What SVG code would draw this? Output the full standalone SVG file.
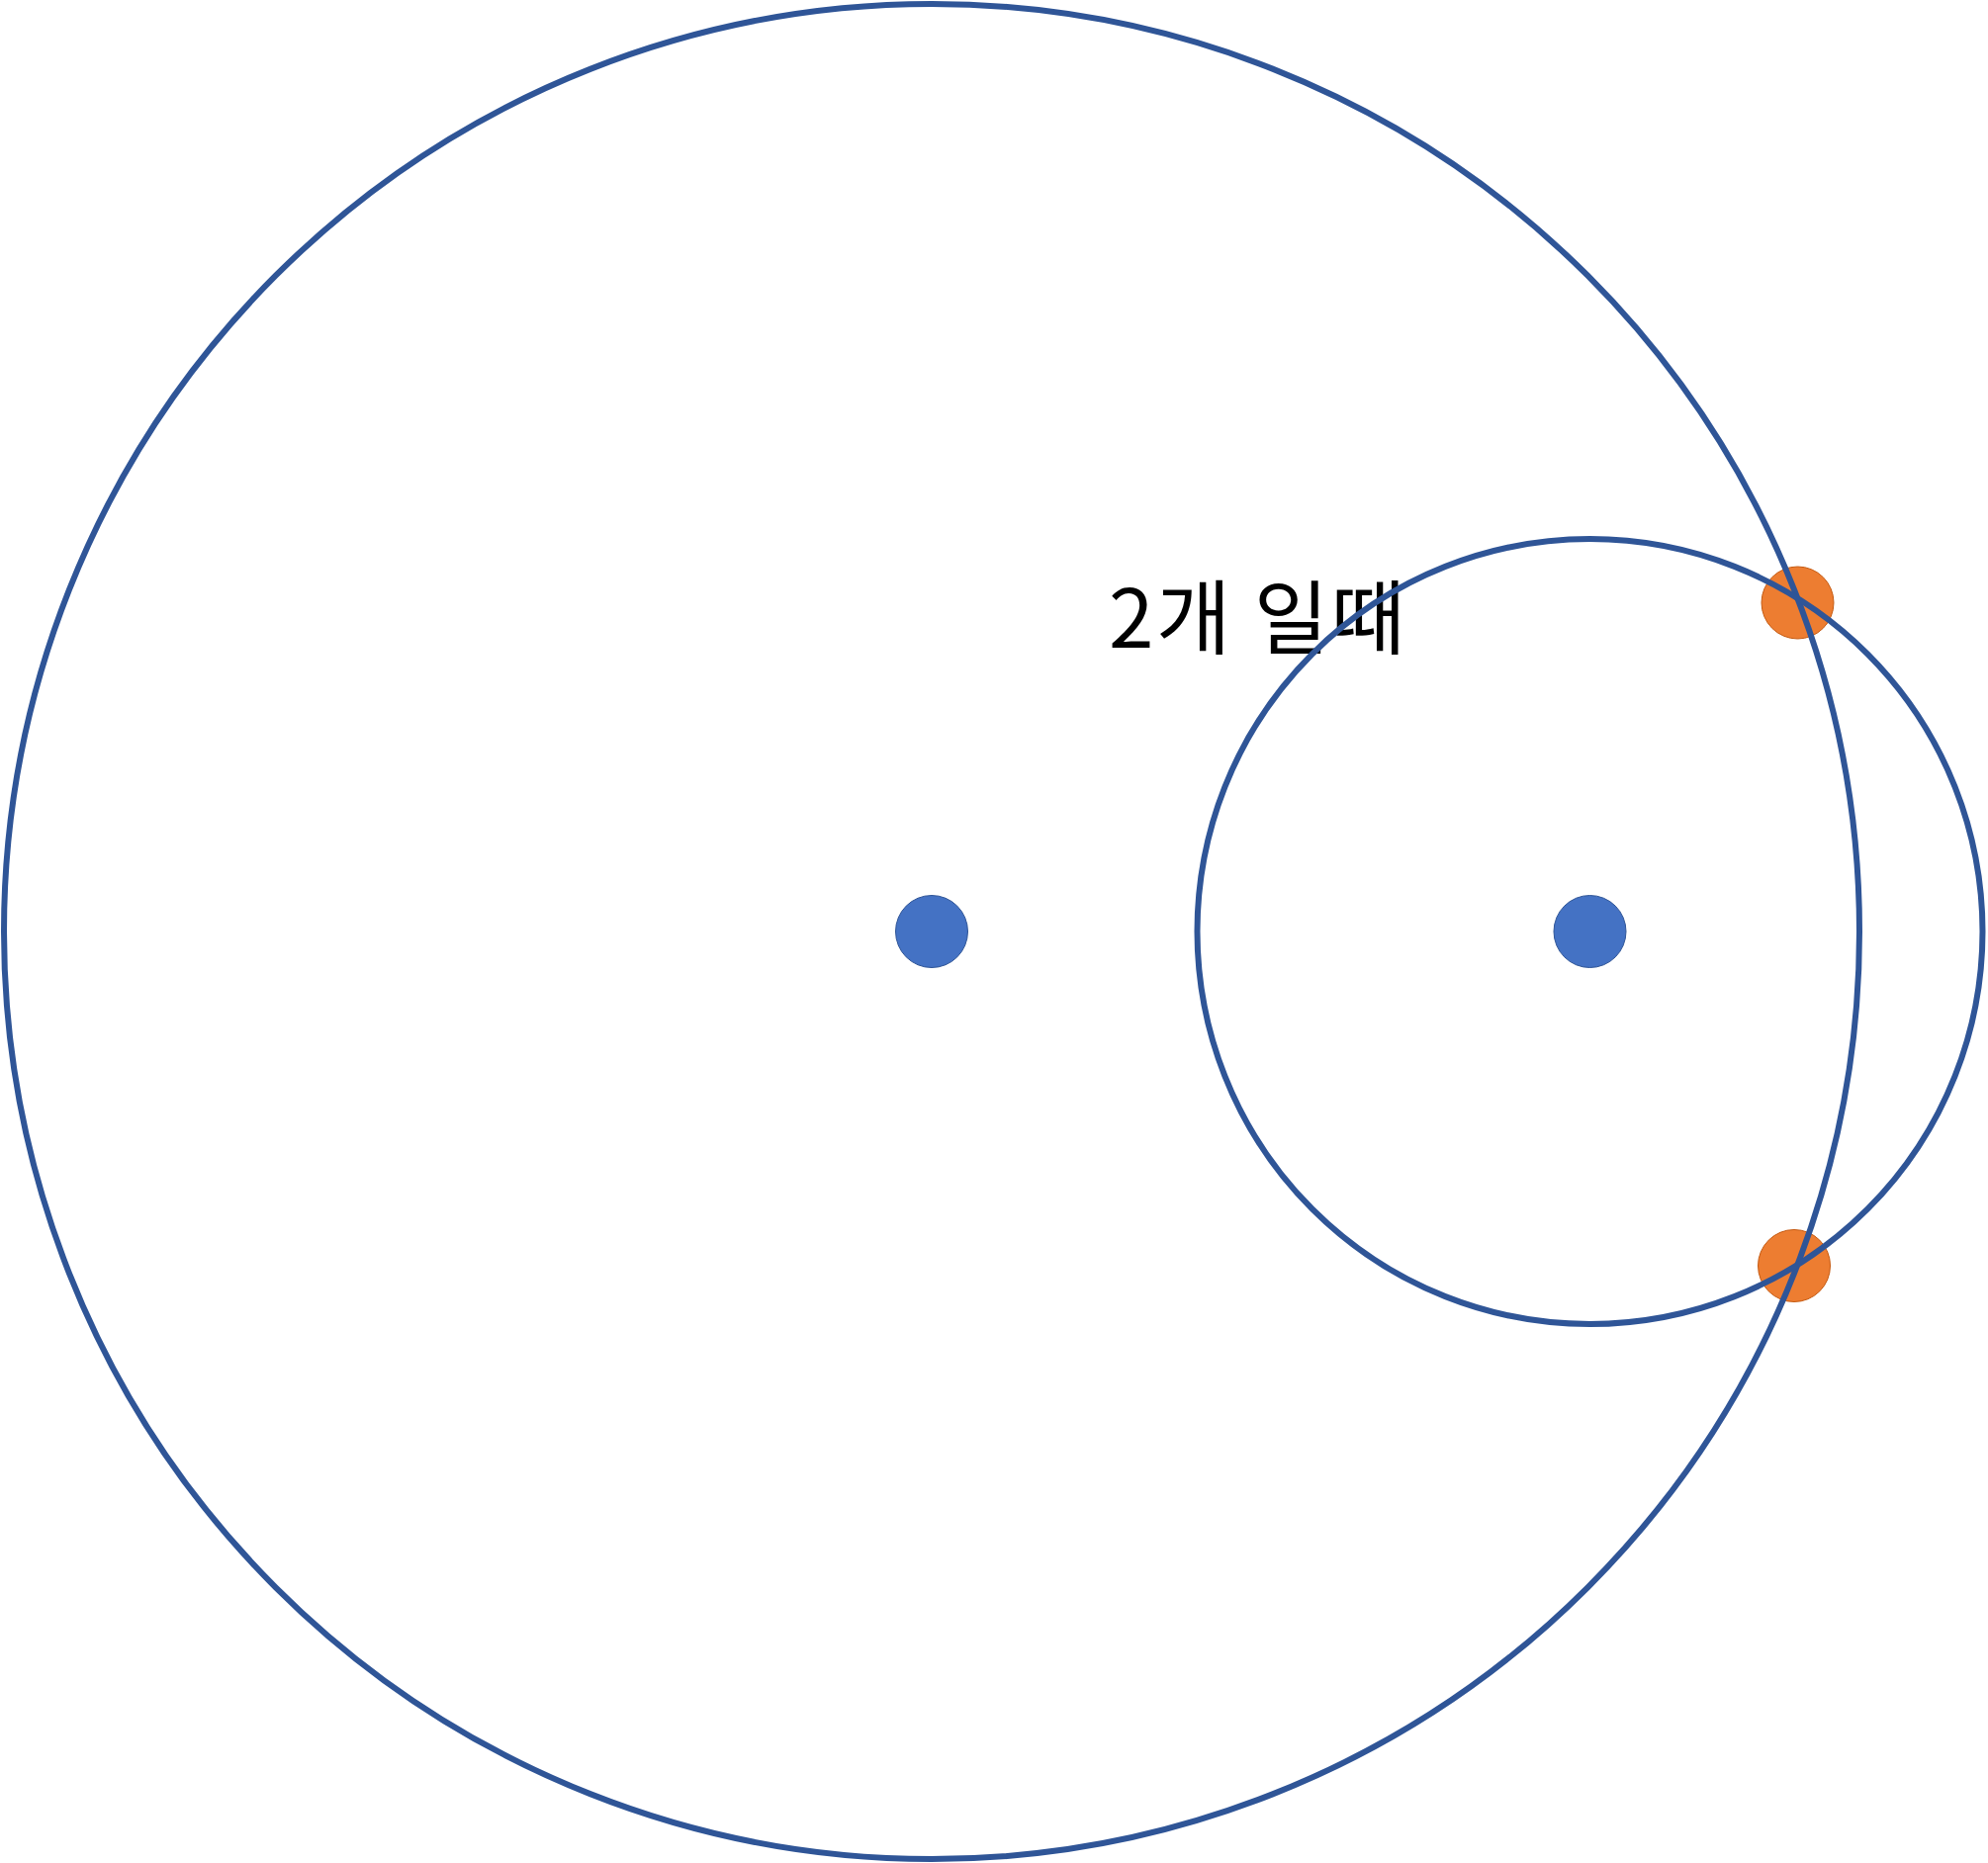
<svg xmlns="http://www.w3.org/2000/svg" width="2010" height="1884" viewBox="0 0 2010 1884">
<style>
.ring{fill:none;stroke:#2F5597;stroke-width:6}
.blue{fill:#4472C4;stroke:#2F5597;stroke-width:1}
.orange{fill:#ED7D31;stroke:#C55A11;stroke-width:1}
.label{font-family:"Noto Sans CJK KR","Noto Sans",sans-serif;font-size:82px;fill:#000}
</style>
<rect width="2010" height="1884" fill="#fff"/>
<g id="node-center-1"><circle class="blue" cx="942" cy="942" r="36.5"/></g>
<g id="node-center-2"><circle class="blue" cx="1607.5" cy="942" r="36.5"/></g>
<g id="node-intersect-1"><circle class="orange" cx="1817.5" cy="609.5" r="36.5"/></g>
<g id="node-intersect-2"><circle class="orange" cx="1814" cy="1280" r="36.5"/></g>
<g id="label"><text class="label" x="1121" y="655" textLength="300" lengthAdjust="spacing">2개 일때</text></g>
<g id="connectors">
<circle id="big-ring" class="ring" cx="942" cy="942" r="938"/>
<circle id="small-ring" class="ring" cx="1607.5" cy="942" r="397"/>
</g>
</svg>
